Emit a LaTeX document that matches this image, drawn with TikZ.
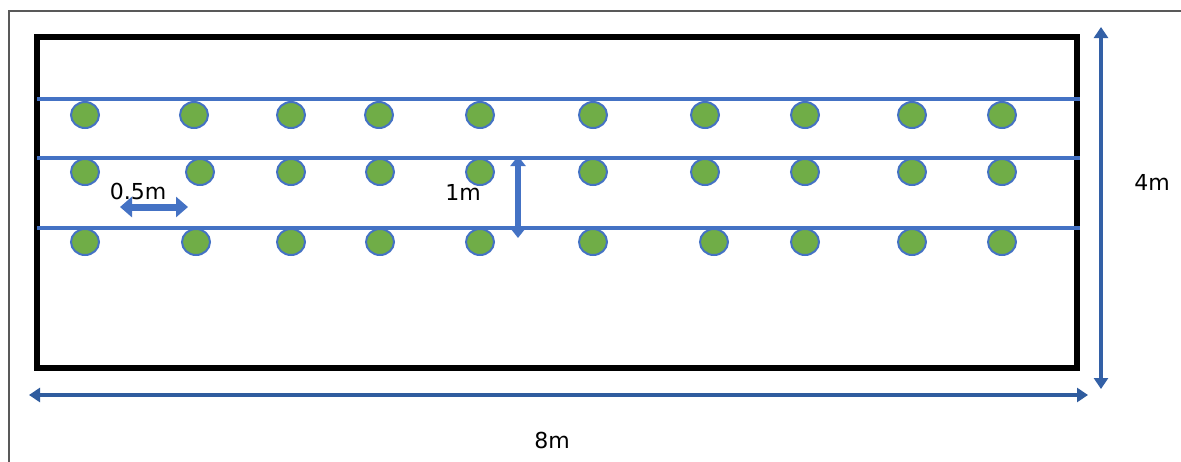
\documentclass[tikz,border=0pt]{standalone}
\usepackage{fontspec}
\setmainfont{DejaVu Sans}
\usetikzlibrary{arrows.meta,shapes.geometric}
\definecolor{rowblue}{HTML}{4472C4}
\definecolor{dimblue}{HTML}{2F5C9E}
\definecolor{plantgreen}{HTML}{70AD47}
\begin{document}
\begin{tikzpicture}[x=1pt,y=-1pt]%
\tikzstyle{plant} = [draw=rowblue, fill=plantgreen, line width=2pt,
    ellipse, minimum width=28pt, minimum height=26pt, inner sep=0pt]
\tikzstyle{rowline} = [draw=rowblue, line width=3.5pt]
\tikzstyle{dimline} = [draw=dimblue, line width=3.5pt, {Triangle[length=11pt,width=14pt]}-{Triangle[length=11pt,width=14pt]}]
\tikzstyle{label} = [font=\fontsize{22}{24}\selectfont, inner sep=0pt]
\useasboundingbox (0,0) rectangle (1181,461);
\clip (0,0) rectangle (1181,461);
% frame and field
\draw[gray!70!black, line width=1.5pt] (9,11) rectangle (1200,480);
\draw[line width=6pt] (37,37) rectangle (1077,368);
% planting rows
\foreach \r/\y in {1/99, 2/158, 3/228} {
  \coordinate (row\r w) at (37,\y);
  \coordinate (row\r e) at (1080,\y);
  \draw[rowline] (row\r w) -- (row\r e);
}
% plants
\foreach \x [count=\i] in {85,194,291,379,480,593,705,805,912,1002}
  \node[plant] (pa\i) at (\x,115) {};
\foreach \x [count=\i] in {85,200,291,380,480,593,705,805,912,1002}
  \node[plant] (pb\i) at (\x,172) {};
\foreach \x [count=\i] in {85,196,291,380,480,593,714,805,912,1002}
  \node[plant] (pc\i) at (\x,242) {};
% spacing marks
\coordinate (halfw) at (120,207);
\coordinate (halfe) at (188,207);
\node[label] (half) at (138,191) {0.5m};
\draw[draw=rowblue, fill=rowblue, line width=7pt, {Triangle[length=12pt,width=20pt]}-{Triangle[length=12pt,width=20pt]}] (halfw) -- (halfe);
\coordinate (onetop) at (518,156);
\coordinate (onebot) at (518,238);
\draw[draw=rowblue, line width=5.5pt, {Triangle[length=10pt,width=15pt]}-{Triangle[length=10pt,width=15pt]}] (onetop) -- (onebot);
\node[label] (one) at (463,192) {1m};
% field size
\coordinate (fourtop) at (1101,27);
\coordinate (fourbot) at (1101,389);
\draw[dimline, draw=dimblue!80!rowblue, line width=4.5pt] (fourtop) -- (fourbot);
\node[label] (four) at (1152,182) {4m};
\coordinate (eightw) at (29,395);
\coordinate (eighte) at (1088,395);
\draw[dimline] (eightw) -- (eighte);
\node[label] (eight) at (552,440) {8m};
\end{tikzpicture}
\end{document}
